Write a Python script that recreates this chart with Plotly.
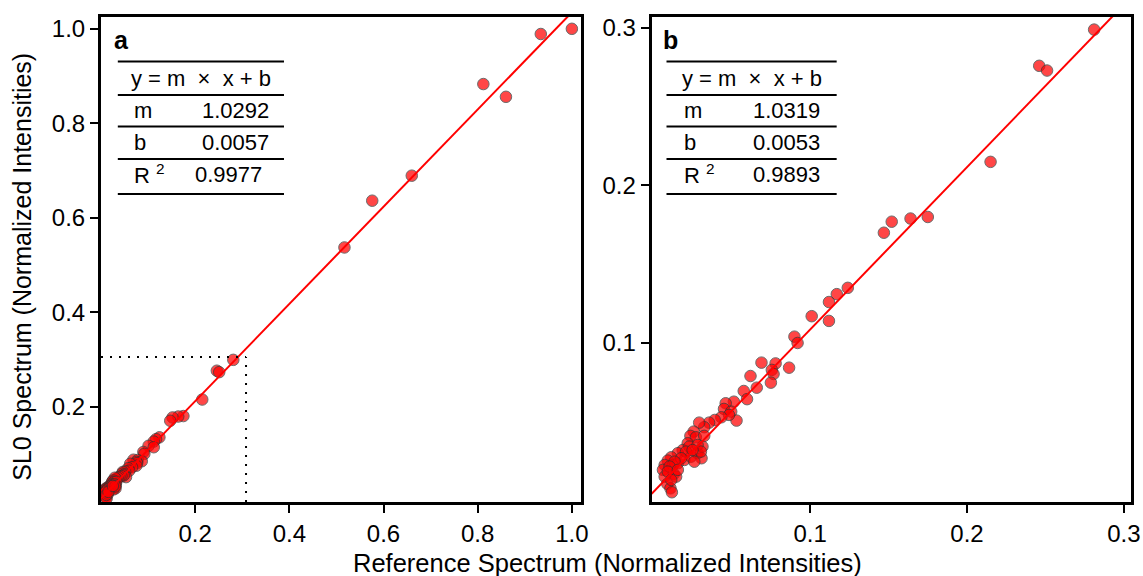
import plotly.graph_objects as go

# points seen only in panel a (x > 0.3)
high_x = [1.000, 0.934, 0.812, 0.860, 0.660, 0.576, 0.517]
high_y = [1.000, 0.989, 0.883, 0.856, 0.689, 0.636, 0.537]

# points below 0.3 (shown in both panels)
low_x = [0.281, 0.246, 0.251, 0.215, 0.175, 0.164, 0.152, 0.147, 0.124, 0.117,
         0.112, 0.101, 0.112, 0.090, 0.092, 0.069, 0.078, 0.0866, 0.0756, 0.0767,
         0.075, 0.062, 0.066, 0.0577, 0.0598, 0.0514, 0.0462, 0.0451, 0.0497, 0.0531,
         0.0483, 0.0434, 0.0392, 0.0356, 0.0325, 0.0293, 0.0258, 0.0237, 0.0272, 0.0325,
         0.022, 0.0188, 0.0157, 0.0115, 0.0093, 0.0073, 0.0062, 0.0073, 0.0090, 0.0110,
         0.0119, 0.0131, 0.0146, 0.0125, 0.0157, 0.0199, 0.0241, 0.0283, 0.0314, 0.0308,
         0.0262, 0.0230, 0.0283, 0.0209, 0.0178, 0.0136, 0.0104, 0.0093, 0.0115, 0.0157,
         0.0304, 0.0251]
low_y = [0.299, 0.276, 0.273, 0.215, 0.180, 0.179, 0.177, 0.170, 0.135, 0.131,
         0.126, 0.117, 0.114, 0.104, 0.100, 0.0875, 0.087, 0.0843, 0.0829, 0.0803,
         0.0748, 0.079, 0.0716, 0.0695, 0.0643, 0.0627, 0.0617, 0.0581, 0.0564, 0.0507,
         0.0543, 0.0528, 0.0511, 0.0494, 0.0465, 0.0494, 0.0437, 0.0410, 0.0401, 0.0410,
         0.0363, 0.032, 0.030, 0.0274, 0.0253, 0.0225, 0.0194, 0.0151, 0.0105, 0.0077,
         0.0052, 0.0168, 0.0151, 0.0225, 0.0236, 0.0257, 0.0278, 0.030, 0.0342, 0.0268,
         0.0246, 0.0342, 0.0352, 0.031, 0.0268, 0.0246, 0.0215, 0.0183, 0.0130, 0.0194,
         0.031, 0.032]

fit_a = {'m': 1.0292, 'b': 0.0057, 'r2': 0.9977}
fit_b = {'m': 1.0319, 'b': 0.0053, 'r2': 0.9893}

FONT = 'Liberation Sans, Arial, sans-serif'
SP = '\u00a0'


def goPoints(x, y, xa, ya):
    return go.Scatter(x=x, y=y, mode='markers', xaxis=xa, yaxis=ya,
                      marker=dict(size=11.5, color='red', opacity=0.72,
                                  line=dict(color='#333', width=1)),
                      showlegend=False, hoverinfo='skip')


def goFit(fit, x0, x1, xa, ya):
    xs = [x0, x1]
    ys = [fit['m'] * v + fit['b'] for v in xs]
    return go.Scatter(x=xs, y=ys, mode='lines', xaxis=xa, yaxis=ya,
                      line=dict(color='red', width=2),
                      showlegend=False, hoverinfo='skip')


def table(fig, fit, letter, xa, ya, x0, x1, xl, xr, xr2):
    xd, yd = xa + ' domain', ya + ' domain'
    for yy in [0.908, 0.839, 0.774, 0.707, 0.635]:
        fig.add_shape(type='line', xref=xd, yref=yd, x0=x0, x1=x1, y0=yy, y1=yy,
                      line=dict(color='black', width=2))
    def txt(s, x, y, anchor, size=22):
        fig.add_annotation(text=s, xref=xd, yref=yd,
                           x=x, y=y, xanchor=anchor, yanchor='middle', showarrow=False,
                           font=dict(size=size, color='black', family=FONT))
    txt('<b>%s</b>' % letter, x0 - 0.012, 0.953, 'left', size=25)
    txt('y = m' + SP * 2 + '\u00d7' + SP * 2 + 'x + b', (x0 + x1) / 2, 0.874, 'center')
    txt('m', xl, 0.808, 'left')
    txt('%.4f' % fit['m'], xr, 0.808, 'right')
    txt('b', xl, 0.742, 'left')
    txt('%.4f' % fit['b'], xr, 0.742, 'right')
    txt('R' + SP + '<sup>2</sup>', xl, 0.676, 'left')
    txt('%.4f' % fit['r2'], xr2, 0.676, 'right')


fig = go.Figure()
fig.add_trace(goPoints(high_x + low_x, high_y + low_y, 'x', 'y'))
fig.add_trace(goFit(fit_a, 0.0, 1.02, 'x', 'y'))
fig.add_trace(goPoints(low_x, low_y, 'x2', 'y2'))
fig.add_trace(goFit(fit_b, -0.001, 0.3045, 'x2', 'y2'))

axis_style = dict(showline=True, linecolor='black', linewidth=3, mirror=True,
                  ticks='outside', ticklen=8, tickwidth=2, tickcolor='black',
                  showgrid=False, zeroline=False, ticklabeloverflow='allow',
                  tickfont=dict(size=24, color='black', family=FONT))

fig.update_layout(
    width=1143, height=576,
    margin=dict(l=101, r=2, t=17, b=74),
    plot_bgcolor='white', paper_bgcolor='white',
    xaxis=dict(domain=[0, 0.4663], range=[0.0, 1.02],
               tickvals=[0.2, 0.4, 0.6, 0.8, 1.0], ticktext=['0.2', '0.4', '0.6', '0.8', '1.0'],
               anchor='y', **axis_style),
    yaxis=dict(domain=[0, 1], range=[-0.002, 1.025],
               tickvals=[0.2, 0.4, 0.6, 0.8, 1.0], ticktext=['0.2', '0.4', '0.6', '0.8', '1.0'],
               anchor='x', **axis_style),
    xaxis2=dict(domain=[0.5346, 1], range=[-0.001, 0.3045],
                tickvals=[0.1, 0.2, 0.3], ticktext=['0.1', '0.2', '0.3'],
                anchor='y2', **axis_style),
    yaxis2=dict(domain=[0, 1], range=[-0.001, 0.307],
                tickvals=[0.1, 0.2, 0.3], ticktext=['0.1', '0.2', '0.3'],
                anchor='x2', **axis_style),
)

# dotted box marking the zoomed region of panel b
fig.add_shape(type='line', xref='x', yref='y', x0=0.0, x1=0.308, y0=0.305, y1=0.305,
              line=dict(color='black', width=2, dash='2px,7px'))
fig.add_shape(type='line', xref='x', yref='y', x0=0.308, x1=0.308, y0=-0.002, y1=0.305,
              line=dict(color='black', width=2, dash='2px,7px'))

table(fig, fit_a, 'a', 'x', 'y', 0.035, 0.381, 0.064, 0.353, 0.340)
table(fig, fit_b, 'b', 'x2', 'y2', 0.031, 0.386, 0.064, 0.355, 0.355)

fig.add_annotation(text='Reference Spectrum (Normalized Intensities)', xref='paper', yref='paper',
                   x=0.492, y=-0.126, xanchor='center', yanchor='middle', showarrow=False,
                   font=dict(size=25.5, color='black', family=FONT))
fig.add_annotation(text='SL0 Spectrum (Normalized Intensities)', xref='paper', yref='paper',
                   x=0, y=0.485, xshift=-79, xanchor='center', yanchor='middle', textangle=-90,
                   showarrow=False, font=dict(size=25, color='black', family=FONT))

fig.write_html('out.html', config={'displayModeBar': False},
               post_script="document.body.style.margin='0';")
